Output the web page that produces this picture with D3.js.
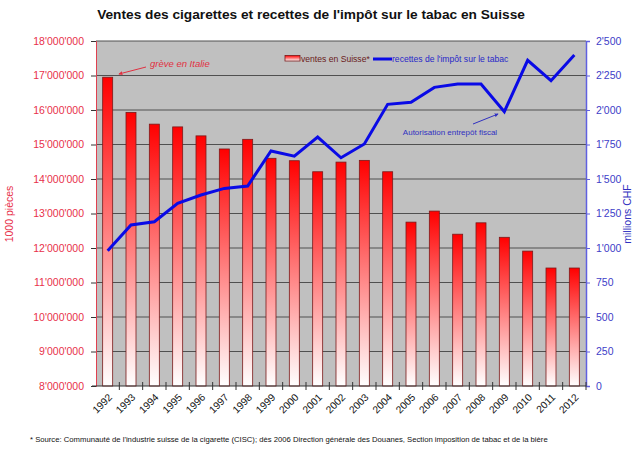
<!DOCTYPE html>
<html>
<head>
<meta charset="utf-8">
<script src="https://cdn.jsdelivr.net/npm/d3@7"></script>
<style>
  body { margin: 0; background: #fff; }
  svg { font-family: "Liberation Sans", Arial, sans-serif; display: block; }
</style>
</head>
<body>
<svg width="640" height="452"></svg>
<script>
const years = ['1992', '1993', '1994', '1995', '1996', '1997', '1998', '1999', '2000', '2001',
  '2002', '2003', '2004', '2005', '2006', '2007', '2008', '2009', '2010', '2011', '2012']
// ventes en Suisse, 1000 pièces
const sales = [16950000, 15930000, 15590000, 15510000, 15250000, 14870000, 15150000, 14600000,
  14530000, 14210000, 14490000, 14540000, 14210000, 12750000, 13070000, 12400000, 12730000,
  12310000, 11910000, 11420000, 11420000]
// recettes de l'impôt sur le tabac, millions CHF
const revenue = [980, 1167, 1190, 1324, 1384, 1432, 1449, 1703, 1665, 1804, 1654, 1754, 2041,
  2056, 2164, 2188, 2188, 1988, 2360, 2212, 2398]
const leftTicks = [8e6, 9e6, 10e6, 11e6, 12e6, 13e6, 14e6, 15e6, 16e6, 17e6, 18e6]
const rightTicks = [0, 250, 500, 750, 1000, 1250, 1500, 1750, 2000, 2250, 2500]

const pLeft = 96, pRight = 586, pTop = 41, pBottom = 386
const svg = d3.select('svg')
const fmt = v => d3.format(',')(v).replace(/,/g, "'")

const x = d3.scaleBand().domain(years).range([pLeft, pRight])
const yL = d3.scaleLinear().domain([8e6, 18e6]).range([pBottom, pTop])
const yR = d3.scaleLinear().domain([0, 2500]).range([pBottom, pTop])

const defs = svg.append('defs')
const grad = defs.append('linearGradient').attr('id', 'barGrad')
  .attr('x1', 0).attr('y1', 0).attr('x2', 0).attr('y2', 1)
grad.append('stop').attr('offset', '0%').attr('stop-color', '#ff0000')
grad.append('stop').attr('offset', '100%').attr('stop-color', '#ffffff')

// title
svg.append('text').attr('x', 311).attr('y', 19).attr('text-anchor', 'middle')
  .attr('font-size', 13.7).attr('font-weight', 'bold').attr('fill', '#111')
  .text("Ventes des cigarettes et recettes de l'impôt sur le tabac en Suisse")

// plot background
svg.append('rect').attr('x', pLeft).attr('y', pTop).attr('width', pRight - pLeft).attr('height', pBottom - pTop)
  .attr('fill', '#c0c0c0')

// gridlines
svg.append('g').selectAll('line').data(leftTicks.slice(1)).join('line')
  .attr('x1', pLeft).attr('x2', pRight)
  .attr('y1', d => yL(d)).attr('y2', d => yL(d))
  .attr('stroke', '#505050').attr('stroke-width', 1)

// bars
const barW = 10
svg.append('g').selectAll('rect').data(sales).join('rect')
  .attr('x', (d, i) => x(years[i]) + x.bandwidth() / 2 - barW / 2)
  .attr('y', d => yL(d))
  .attr('width', barW)
  .attr('height', d => pBottom - yL(d))
  .attr('fill', 'url(#barGrad)')
  .attr('stroke', '#7a1a1a').attr('stroke-width', 0.8)

// line
const line = d3.line().x((d, i) => x(years[i]) + x.bandwidth() / 2).y(d => yR(d))
svg.append('path').datum(revenue).attr('d', line)
  .attr('fill', 'none').attr('stroke', '#0a0ae6').attr('stroke-width', 3)
  .attr('stroke-linejoin', 'miter')

// left axis
const axL = svg.append('g').attr('transform', `translate(${pLeft},0)`)
  .call(d3.axisLeft(yL).tickValues(leftTicks).tickFormat(fmt).tickSize(5).tickPadding(7))
axL.select('.domain').attr('stroke', '#e04050')
axL.selectAll('.tick line').attr('stroke', '#333')
axL.selectAll('text').attr('fill', '#e8304a').attr('font-size', 10.5)
  .attr('font-family', '"Liberation Sans", Arial, sans-serif')

// right axis
const axR = svg.append('g').attr('transform', `translate(${pRight},0)`)
  .call(d3.axisRight(yR).tickValues(rightTicks).tickFormat(fmt).tickSize(4).tickPadding(6))
axR.select('.domain').attr('stroke', '#6060e0').attr('stroke-width', 1.5)
axR.selectAll('.tick line').attr('stroke', '#6060e0')
axR.selectAll('text').attr('fill', '#4040c8').attr('font-size', 10.5)
  .attr('font-family', '"Liberation Sans", Arial, sans-serif')

// bottom axis
const axB = svg.append('g').attr('transform', `translate(0,${pBottom})`)
axB.append('line').attr('x1', pLeft - 4).attr('x2', pRight).attr('stroke', '#333')
axB.selectAll('line.tk').data(years).join('line').attr('class', 'tk')
  .attr('x1', (d, i) => pLeft + (i + 1) * x.step()).attr('x2', (d, i) => pLeft + (i + 1) * x.step())
  .attr('y1', -4).attr('y2', 4).attr('stroke', '#333')
axB.selectAll('text').data(years).join('text')
  .attr('transform', d => `translate(${x(d) + x.bandwidth() / 2},7) rotate(-45)`)
  .attr('text-anchor', 'end').attr('dy', '0.7em').attr('font-size', 10.2).attr('fill', '#111')
  .text(d => d)

// axis titles
svg.append('text').attr('transform', 'translate(13,214) rotate(-90)').attr('text-anchor', 'middle')
  .attr('font-size', 10.5).attr('fill', '#e8304a').text('1000 pièces')
svg.append('text').attr('transform', 'translate(631,214) rotate(-90)').attr('text-anchor', 'middle')
  .attr('font-size', 10.5).attr('fill', '#3030c0').text('millions CHF')

// legend
const lg = svg.append('g')
lg.append('rect').attr('x', 285).attr('y', 55.5).attr('width', 15).attr('height', 5.5)
  .attr('fill', 'url(#barGrad)').attr('stroke', '#7a1a1a').attr('stroke-width', 0.8)
lg.append('text').attr('x', 301).attr('y', 62).attr('font-size', 8.6).attr('fill', '#6a1a1a')
  .text('ventes en Suisse*')
lg.append('line').attr('x1', 373).attr('x2', 392).attr('y1', 59).attr('y2', 59)
  .attr('stroke', '#0a0ae6').attr('stroke-width', 3)
lg.append('text').attr('x', 392).attr('y', 62).attr('font-size', 8.6).attr('fill', '#2828c8')
  .text("recettes de l'impôt sur le tabac")

// annotations
defs.append('marker').attr('id', 'arrR').attr('viewBox', '0 0 6 6').attr('refX', 5).attr('refY', 3)
  .attr('markerWidth', 4).attr('markerHeight', 4).attr('orient', 'auto')
  .append('path').attr('d', 'M0,0L6,3L0,6Z').attr('fill', '#e03040')
defs.append('marker').attr('id', 'arrB').attr('viewBox', '0 0 6 6').attr('refX', 5).attr('refY', 3)
  .attr('markerWidth', 4).attr('markerHeight', 4).attr('orient', 'auto')
  .append('path').attr('d', 'M0,0L6,3L0,6Z').attr('fill', '#3030c0')

svg.append('line').attr('x1', 146).attr('y1', 67).attr('x2', 119).attr('y2', 74)
  .attr('stroke', '#e03040').attr('stroke-width', 1).attr('marker-end', 'url(#arrR)')
svg.append('text').attr('x', 150).attr('y', 67).attr('font-size', 9.5).attr('font-style', 'italic')
  .attr('fill', '#e03040').text('grève en Italie')

svg.append('line').attr('x1', 473).attr('y1', 124).attr('x2', 498).attr('y2', 114)
  .attr('stroke', '#3030c0').attr('stroke-width', 1).attr('marker-end', 'url(#arrB)')
svg.append('text').attr('x', 450).attr('y', 135).attr('text-anchor', 'middle').attr('font-size', 8)
  .attr('fill', '#3030c0').text('Autorisation entrepôt fiscal')

// footnote
svg.append('text').attr('x', 30).attr('y', 442).attr('font-size', 7.7).attr('fill', '#111')
  .text("* Source: Communauté de l'industrie suisse de la cigarette (CISC); dès 2006 Direction générale des Douanes, Section imposition de tabac et de la bière")
</script>
</body>
</html>
